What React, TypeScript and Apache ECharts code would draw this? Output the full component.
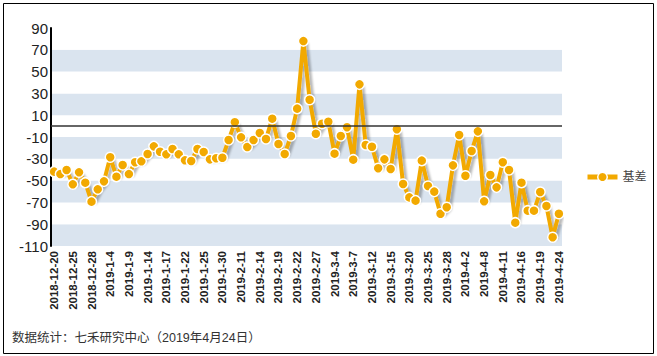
import React, { useEffect, useRef } from "react";
import * as echarts from "echarts";

const categories: string[] = [
  "2018-12-20", "2018-12-21", "2018-12-24", "2018-12-25", "2018-12-26", "2018-12-27", "2018-12-28",
  "2019-1-2", "2019-1-3", "2019-1-4", "2019-1-7", "2019-1-8", "2019-1-9", "2019-1-10", "2019-1-11",
  "2019-1-14", "2019-1-15", "2019-1-16", "2019-1-17", "2019-1-18", "2019-1-21", "2019-1-22", "2019-1-23",
  "2019-1-24", "2019-1-25", "2019-1-28", "2019-1-29", "2019-1-30", "2019-1-31", "2019-2-1",
  "2019-2-11", "2019-2-12", "2019-2-13", "2019-2-14", "2019-2-15", "2019-2-18", "2019-2-19", "2019-2-20",
  "2019-2-21", "2019-2-22", "2019-2-25", "2019-2-26", "2019-2-27", "2019-2-28",
  "2019-3-1", "2019-3-4", "2019-3-5", "2019-3-6", "2019-3-7", "2019-3-8", "2019-3-11", "2019-3-12",
  "2019-3-13", "2019-3-14", "2019-3-15", "2019-3-18", "2019-3-19", "2019-3-20", "2019-3-21", "2019-3-22",
  "2019-3-25", "2019-3-26", "2019-3-27", "2019-3-28", "2019-3-29",
  "2019-4-1", "2019-4-2", "2019-4-3", "2019-4-4", "2019-4-8", "2019-4-9", "2019-4-10", "2019-4-11",
  "2019-4-12", "2019-4-15", "2019-4-16", "2019-4-17", "2019-4-18", "2019-4-19", "2019-4-22", "2019-4-23",
  "2019-4-24",
];

const basisValues: number[] = [
  -41.8, -44, -40.3, -53.4, -42.4, -51.9, -69.3, -58, -50.7, -28.6,
  -46.4, -35.7, -44, -33.2, -32.3, -25.6, -18.6, -23.5, -25.9, -21,
  -25.9, -31.4, -32, -21, -23.8, -30.5, -29.5, -29, -12.8, 3.5,
  -10.3, -19.2, -12.8, -6.3, -11.8, 6.8, -16.4, -25.6, -9.1, 16,
  78, 24.2, -7, 2.2, 4, -25.3, -9.1, -1.1, -30.8, 38.3,
  -17.3, -18.9, -38.7, -30.5, -39.4, -2.9, -53.1, -65.4, -68.4, -31.7,
  -55, -60.1, -80.4, -74.5, -36, -8.2, -45.5, -22.8, -4.8, -69,
  -44.9, -56.2, -33.2, -40.3, -88.6, -51.9, -77.6, -77.6, -60.5, -73.3,
  -102, -80.4,
];

const seriesName = "基差";
const footerText = "数据统计：七禾研究中心（2019年4月24日）";
const yMin = -110;
const yMax = 90;
const yInterval = 20;

export default function App() {
  const ref = useRef<HTMLDivElement>(null);
  useEffect(() => {
    if (!ref.current) return;
    const chart = echarts.init(ref.current, null, { renderer: "svg" });
    chart.setOption({
      animation: false,
      backgroundColor: "#ffffff",
      grid: { left: 51, right: 95, top: 28, bottom: 110, containLabel: false },
      legend: {
        data: [seriesName],
        left: 580,
        top: 166,
        itemWidth: 30,
        itemHeight: 12,
        itemGap: 6,
        lineStyle: { color: "#f2a900", width: 5 },
        itemStyle: { color: "#f2a900", borderColor: "#ffffff", borderWidth: 1.5 },
        textStyle: { fontSize: 12, color: "#444", fontFamily: "Liberation Sans, Noto Sans CJK SC, sans-serif" },
      },
      xAxis: {
        type: "category",
        data: categories,
        boundaryGap: true,
        axisLine: { show: false },
        axisTick: { show: false },
        splitLine: { show: false },
        axisLabel: {
          interval: 2,
          rotate: 90,
          margin: 5,
          fontSize: 11.5,
          fontWeight: "bold",
          color: "#222",
          fontFamily: "Liberation Sans, Arial, sans-serif",
        },
      },
      yAxis: {
        type: "value",
        min: yMin,
        max: yMax,
        interval: yInterval,
        axisLine: { show: true, lineStyle: { color: "#000", width: 2 } },
        axisTick: { show: false },
        splitLine: { show: false },
        splitArea: { show: true, areaStyle: { color: ["#dae4ef", "#ffffff"] } },
        axisLabel: {
          margin: 3,
          fontSize: 15,
          color: "#222",
          fontFamily: "Liberation Sans, Arial, sans-serif",
        },
      },
      series: [
        {
          name: seriesName,
          type: "line",
          data: basisValues,
          symbol: "circle",
          symbolSize: 10,
          showAllSymbol: true,
          itemStyle: { color: "#f2a900", borderColor: "#ffffff", borderWidth: 1.5 },
          lineStyle: {
            color: "#f2a900",
            width: 4,
            shadowColor: "rgba(0,0,0,0.28)",
            shadowOffsetX: 3,
            shadowOffsetY: 2,
            shadowBlur: 2,
          },
          markLine: {
            silent: true,
            symbol: "none",
            label: { show: false },
            lineStyle: { color: "#333", width: 1.5, type: "solid" },
            data: [{ yAxis: 0 }],
          },
        },
      ],
      graphic: [
        {
          type: "rect",
          shape: { x: 3.5, y: 3.5, width: 650, height: 350 },
          style: { fill: "none", stroke: "#000", lineWidth: 1 },
          silent: true,
        },
        {
          type: "text",
          left: 12,
          top: 332,
          style: {
            text: footerText,
            fontSize: 12.5,
            fill: "#333",
            fontFamily: "Liberation Sans, Noto Sans CJK SC, sans-serif",
          },
        },
      ],
    });
    return () => chart.dispose();
  }, []);
  return (
    <div
      ref={ref}
      style={{ position: "absolute", left: 0, top: 0, width: 657, height: 356 }}
    />
  );
}
